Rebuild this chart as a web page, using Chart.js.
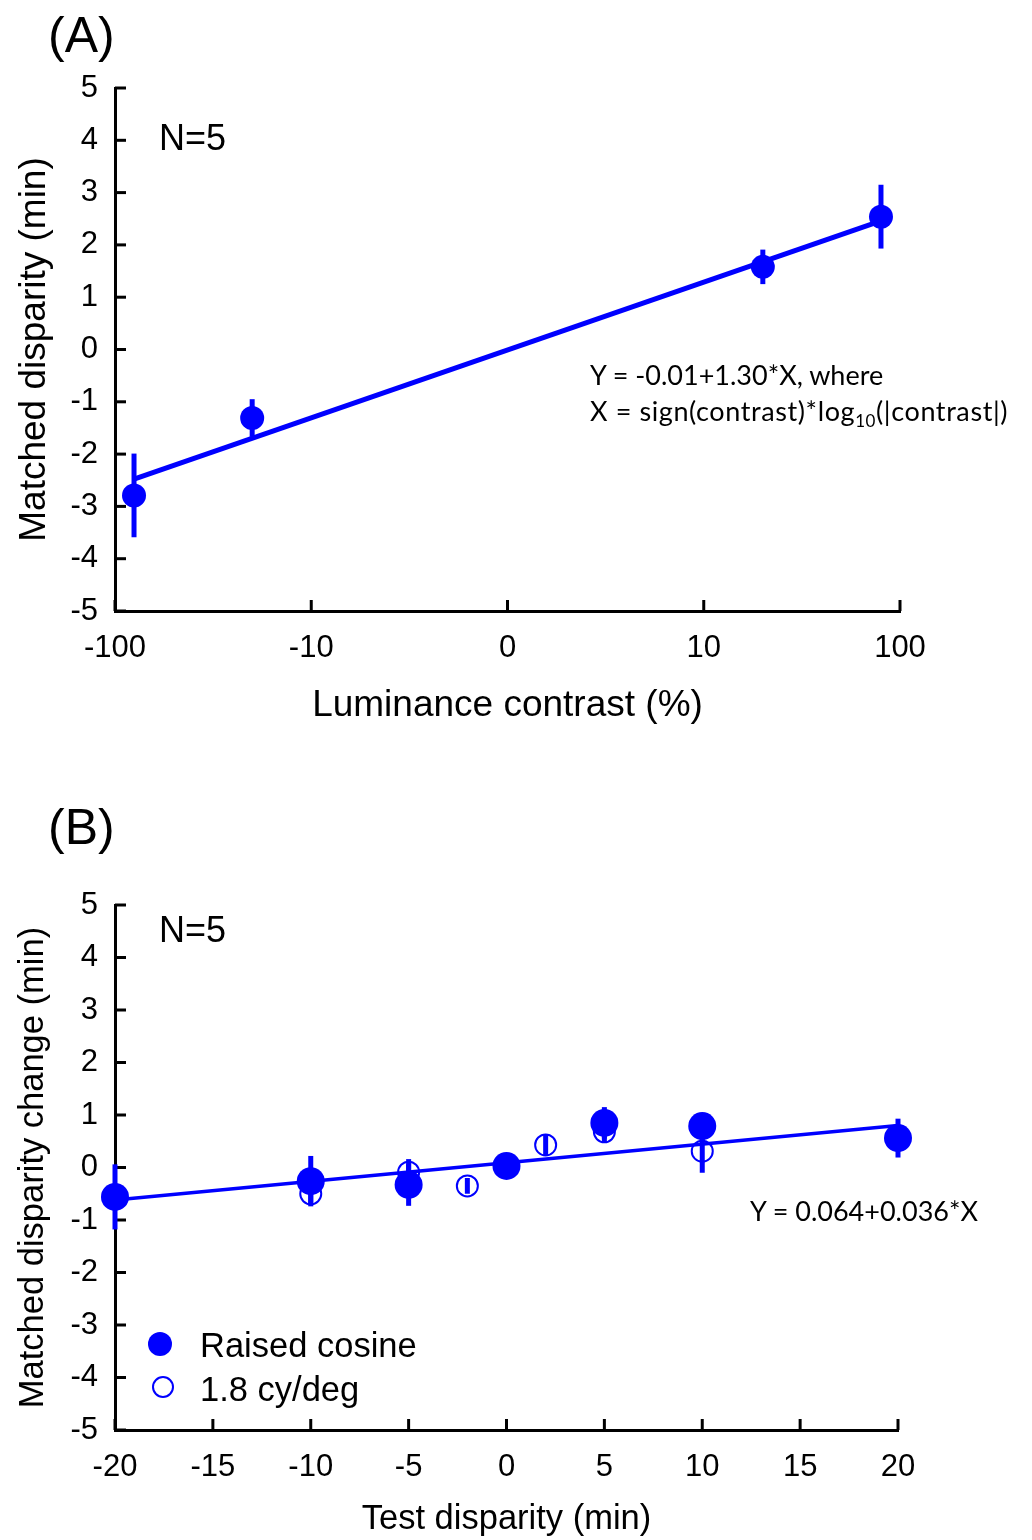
<!DOCTYPE html>
<html>
<head>
<meta charset="utf-8">
<script src="https://cdn.jsdelivr.net/npm/chart.js@4"></script>
<style>
  body { margin: 0; background: #fff; }
  #wrap { position: relative; width: 1032px; height: 1540px; overflow: hidden; font-family: 'Liberation Sans', Arial, sans-serif; color: #000; }
  canvas { position: absolute; left: 0; }
  .txt { position: absolute; line-height: 1; white-space: nowrap; }
  .eq { font-family: Lato, 'Open Sans', sans-serif; font-size: 27px; }
  .dot { position: absolute; border-radius: 50%; box-sizing: border-box; }
</style>
</head>
<body>
<div id="wrap">
  <canvas id="chartA" width="1032" height="770" style="top:0"></canvas>
  <canvas id="chartB" width="1032" height="770" style="top:770px"></canvas>

  <div class="txt" style="left:48px; top:10px; font-size:50px">(A)</div>
  <div class="txt" style="left:159px; top:120px; font-size:36px">N=5</div>
  <div class="txt eq" style="left:590px; top:361px">Y = -0.01+1.30*X, where</div>
  <div class="txt eq" style="left:590px; top:397px; letter-spacing:0.6px">X = sign(contrast)*log<sub style="font-size:17px">10</sub>(|contrast|)</div>

  <div class="txt" style="left:48px; top:802px; font-size:50px">(B)</div>
  <div class="txt" style="left:159px; top:912px; font-size:36px">N=5</div>
  <div class="txt eq" style="left:750px; top:1197px">Y = 0.064+0.036*X</div>

  <div class="dot" style="left:148px; top:1332px; width:24px; height:24px; background:#0000ff"></div>
  <div class="txt" style="left:200px; top:1328px; font-size:34.5px">Raised cosine</div>
  <div class="dot" style="left:152px; top:1376px; width:22px; height:22px; border:2px solid #0000ff"></div>
  <div class="txt" style="left:200px; top:1372px; font-size:34.5px">1.8 cy/deg</div>
</div>

<script>
// Panel A: matched disparity vs luminance contrast
const contrastA = [-80, -20, 20, 80];
const disparityA = [-2.79, -1.31, 1.58, 2.54];
const errA = [0.80, 0.36, 0.33, 0.61];
const fitContrastA = [-80, 80];
const fitDisparityA = [-2.48, 2.46];
const tickValsA = [-2, -1, 0, 1, 2];
const tickLabelsA = ['-100', '-10', '0', '10', '100'];

// Panel B: matched disparity change vs test disparity
const testB = [-20, -10, -5, 0, 5, 10, 20];
const raisedB = [-0.56, -0.26, -0.33, 0.03, 0.85, 0.79, 0.56];
const raisedErrB = [0.62, 0.48, 0.40, 0.10, 0.30, 0.25, 0.37];
const gratingX = [-10, -5, -2, 2, 5, 10];
const gratingB = [-0.50, -0.09, -0.35, 0.43, 0.68, 0.31];
const gratingErrB = [0.20, 0.25, 0.15, 0.20, 0.20, 0.41];
const fitXB = [-20, 20];
const fitYB = [-0.62, 0.80];

const BLUE = '#0000ff';
const signedLog = c => Math.sign(c) * Math.log10(Math.abs(c));

Chart.defaults.font.family = "'Liberation Sans', Arial, sans-serif";
Chart.defaults.color = '#000';

// inward tick marks + error bars, all placed through the chart scales
const decorations = {
  id: 'decorations',
  beforeDatasetsDraw(chart) {
    const { ctx, chartArea, scales: { x, y } } = chart;
    ctx.save();
    ctx.strokeStyle = '#000';
    ctx.lineWidth = 3;
    x.ticks.forEach(t => {
      const px = x.getPixelForValue(t.value);
      ctx.beginPath();
      ctx.moveTo(px, chartArea.bottom);
      ctx.lineTo(px, chartArea.bottom - 11);
      ctx.stroke();
    });
    y.ticks.forEach(t => {
      const py = y.getPixelForValue(t.value);
      ctx.beginPath();
      ctx.moveTo(chartArea.left, py);
      ctx.lineTo(chartArea.left + 11, py);
      ctx.stroke();
    });
    ctx.restore();
  },
  afterDatasetsDraw(chart) {
    const { ctx, scales: { x, y } } = chart;
    ctx.save();
    ctx.strokeStyle = BLUE;
    ctx.lineWidth = 5;
    chart.data.datasets.forEach(ds => {
      if (!ds.errors) return;
      ds.data.forEach((p, i) => {
        const px = x.getPixelForValue(p.x);
        ctx.beginPath();
        ctx.moveTo(px, y.getPixelForValue(p.y + ds.errors[i]));
        ctx.lineTo(px, y.getPixelForValue(p.y - ds.errors[i]));
        ctx.stroke();
      });
    });
    ctx.restore();
  }
};

function axes(xMin, xMax, xTicks, xLabel, xTitle, xHeight, xTitlePad, titleSize) {
  return {
    x: {
      type: 'linear', min: xMin, max: xMax,
      afterBuildTicks: s => { s.ticks = xTicks.map(v => ({ value: v })); },
      afterFit: s => { s.height = xHeight; },
      ticks: { autoSkip: false, maxRotation: 0, padding: 19, font: { size: 31 },
               callback: (v, i) => xLabel ? xLabel[i] : String(v) },
      grid: { drawOnChartArea: false, drawTicks: false },
      border: { color: '#000', width: 3 },
      title: { display: true, text: xTitle, font: { size: titleSize }, padding: { top: 0, bottom: xTitlePad } }
    },
    y: {
      type: 'linear', min: -5, max: 5,
      afterFit: s => { s.width = 115; },
      ticks: { stepSize: 1, padding: 17, font: { size: 31 } },
      grid: { drawOnChartArea: false, drawTicks: false },
      border: { color: '#000', width: 3 },
      title: { display: true, font: { size: titleSize }, padding: { top: 13, bottom: 0 } }
    }
  };
}

const scalesA = axes(-2, 2, tickValsA, tickLabelsA, 'Luminance contrast (%)', 159, 42, 37);
scalesA.y.title.text = 'Matched disparity (min)';

new Chart(document.getElementById('chartA'), {
  type: 'scatter',
  data: {
    datasets: [
      {
        data: contrastA.map((c, i) => ({ x: signedLog(c), y: disparityA[i] })),
        errors: errA,
        pointRadius: 12, pointBackgroundColor: BLUE, pointBorderWidth: 0,
        showLine: false, clip: false, order: 1
      },
      {
        data: fitContrastA.map((c, i) => ({ x: signedLog(c), y: fitDisparityA[i] })),
        showLine: true, borderColor: BLUE, borderWidth: 5, pointRadius: 0, clip: false, order: 2
      }
    ]
  },
  options: {
    responsive: false, animation: false,
    layout: { padding: { top: 88, right: 132, left: 0, bottom: 0 } },
    plugins: { legend: { display: false }, tooltip: { enabled: false } },
    scales: scalesA
  },
  plugins: [decorations]
});

const scalesB = axes(-20, 20, [-20, -15, -10, -5, 0, 5, 10, 15, 20], null, 'Test disparity (min)', 110, 0, 34.5);
scalesB.y.title.text = 'Matched disparity change (min)';

new Chart(document.getElementById('chartB'), {
  type: 'scatter',
  data: {
    datasets: [
      {
        data: fitXB.map((v, i) => ({ x: v, y: fitYB[i] })),
        showLine: true, borderColor: BLUE, borderWidth: 3.5, pointRadius: 0, clip: false, order: 3
      },
      {
        data: testB.map((v, i) => ({ x: v, y: raisedB[i] })),
        errors: raisedErrB,
        pointRadius: 14, pointBackgroundColor: BLUE, pointBorderWidth: 0,
        showLine: false, clip: false, order: 2
      },
      {
        data: gratingX.map((v, i) => ({ x: v, y: gratingB[i] })),
        errors: gratingErrB,
        pointRadius: 10.5, pointBackgroundColor: 'rgba(0,0,0,0)', pointBorderColor: BLUE, pointBorderWidth: 2,
        showLine: false, clip: false, order: 1
      }
    ]
  },
  options: {
    responsive: false, animation: false,
    layout: { padding: { top: 135, right: 134, left: 0, bottom: 0 } },
    plugins: { legend: { display: false }, tooltip: { enabled: false } },
    scales: scalesB
  },
  plugins: [decorations]
});
</script>
</body>
</html>
